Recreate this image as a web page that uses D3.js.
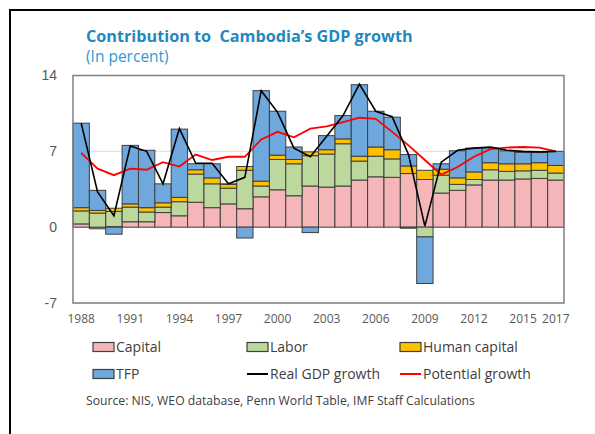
<!DOCTYPE html>
<html>
<head>
    <meta charset="utf-8">
    <title>Contribution to Cambodia's GDP growth</title>
    <script src="https://d3js.org/d3.v7.min.js"></script>
    <style>
        body {
            margin: 0;
            background: #fff;
        }
        .axis path, .axis line {
            display: none;
        }
        .xaxis text {
            font-family: "Open Sans", sans-serif;
            font-size: 12px;
            fill: #595959;
        }
        .yaxis text {
            font-family: "Liberation Sans", Arial, sans-serif;
            font-size: 14px;
            fill: #595959;
        }
        .legend text {
            font-family: "Open Sans", sans-serif;
            font-size: 14px;
            fill: #404040;
        }
    </style>
</head>
<body>
    <div id="chart"></div>

    <script>
        // Data
        const years = [1988, 1989, 1990, 1991, 1992, 1993, 1994, 1995, 1996, 1997,
                       1998, 1999, 2000, 2001, 2002, 2003, 2004, 2005, 2006, 2007,
                       2008, 2009, 2010, 2011, 2012, 2013, 2014, 2015, 2016, 2017];
        const capital = [0.3, -0.15, 0.05, 0.5, 0.5, 1.35, 1.05, 2.3, 1.8, 2.15,
                         1.7, 2.8, 3.45, 2.9, 3.8, 3.7, 3.8, 4.35, 4.65, 4.6,
                         4.95, 4.4, 3.15, 3.4, 3.9, 4.35, 4.35, 4.45, 4.5, 4.35];
        const labor = [1.2, 1.3, 1.4, 1.35, 0.9, 0.5, 1.3, 2.6, 2.2, 1.45,
                       3.55, 1.0, 2.8, 2.95, 2.8, 3.05, 3.9, 1.75, 1.9, 1.7,
                       -0.1, -0.9, 1.65, 0.55, 0.5, 0.95, 0.8, 0.75, 0.75, 0.65];
        const humanCapital = [0.3, 0.25, 0.3, 0.3, 0.4, 0.4, 0.4, 0.4, 0.55, 0.35,
                              0.35, 0.45, 0.4, 0.4, 0.35, 0.4, 0.45, 0.45, 0.85, 0.85,
                              0.7, 0.85, 0.55, 0.6, 0.7, 0.65, 0.7, 0.65, 0.7, 0.7];
        const tfp = [7.8, 1.85, -0.65, 5.4, 5.3, 1.75, 6.3, 0.55, 1.3, 0.05,
                     -1.0, 8.35, 4.05, 1.15, -0.5, 1.3, 2.15, 6.6, 3.3, 3.0,
                     1.05, -4.3, 0.5, 2.5, 2.2, 1.35, 1.2, 1.05, 0.95, 1.3];
        const realGdp = [9.6, 3.25, 1.05, 7.5, 7.0, 4.0, 9.1, 5.9, 5.9, 4.0,
                         4.6, 12.6, 10.6, 7.3, 6.5, 8.4, 10.3, 13.2, 10.7, 10.2,
                         6.7, 0.1, 6.0, 7.1, 7.3, 7.4, 7.1, 7.0, 6.95, 7.0];
        const potential = [6.85, 5.4, 4.8, 5.4, 5.3, 6.0, 5.6, 6.7, 6.2, 6.5,
                           6.5, 8.1, 8.8, 8.3, 9.1, 9.3, 9.7, 10.1, 10.0, 8.8,
                           7.55, 6.2, 4.85, 5.55, 6.5, 7.2, 7.35, 7.4, 7.35, 7.0];
        const xTicks = [1988, 1991, 1994, 1997, 2000, 2003, 2006, 2009, 2012, 2015, 2017];
        const yTicks = [-7, 0, 7, 14];

        const keys = ["capital", "labor", "hc", "tfp"];
        const colors = {capital: "#f4b6b8", labor: "#bdd89c", hc: "#ffc000", tfp: "#6fa8dc"};

        const rows = years.map((y, i) => ({
            year: y,
            capital: capital[i],
            labor: labor[i],
            hc: humanCapital[i],
            tfp: tfp[i]
        }));

        const width = 595, height = 434;
        const plot = {left: 73, right: 564, top: 75.5, bottom: 303};

        const svg = d3.select("#chart").append("svg")
            .attr("width", width)
            .attr("height", height);

        svg.append("rect")
            .attr("width", width)
            .attr("height", height)
            .attr("fill", "#fff");

        // outer frame (left + top edges)
        svg.append("path")
            .attr("d", `M10,${height} V10 H${width}`)
            .attr("fill", "none")
            .attr("stroke", "#000")
            .attr("stroke-width", 2);

        // title
        svg.append("text")
            .attr("x", 86)
            .attr("y", 42)
            .style("font-family", "'Open Sans', sans-serif")
            .style("font-weight", "bold")
            .style("font-size", "16.2px")
            .style("white-space", "pre")
            .attr("fill", "#1f88be")
            .text("Contribution to  Cambodia\u2019s GDP growth");

        svg.append("text")
            .attr("x", 86)
            .attr("y", 62)
            .style("font-family", "'Open Sans', sans-serif")
            .style("font-size", "15.5px")
            .attr("fill", "#2e9ad6")
            .text("(In percent)");

        const x = d3.scaleBand()
            .domain(years)
            .range([plot.left, plot.right])
            .padding(0);

        const y = d3.scaleLinear()
            .domain([-7, 14])
            .range([plot.bottom, plot.top]);

        // gridlines
        svg.append("g")
            .selectAll("line")
            .data(yTicks)
            .join("line")
            .attr("x1", plot.left)
            .attr("x2", plot.right)
            .attr("y1", d => y(d))
            .attr("y2", d => y(d))
            .attr("stroke", "#dedede")
            .attr("stroke-width", 1);

        // stacked bars
        const series = d3.stack()
            .keys(keys)
            .offset(d3.stackOffsetDiverging)(rows);

        svg.append("g")
            .selectAll("g")
            .data(series)
            .join("g")
            .attr("fill", d => colors[d.key])
            .selectAll("rect")
            .data(d => d)
            .join("rect")
            .attr("x", d => x(d.data.year))
            .attr("width", x.bandwidth())
            .attr("y", d => y(Math.max(d[0], d[1])))
            .attr("height", d => Math.abs(y(d[0]) - y(d[1])))
            .attr("stroke", "#3f3f3f")
            .attr("stroke-width", 1);

        // lines
        const cx = d => x(d.year) + x.bandwidth() / 2;

        const valueLine = d3.line()
            .x(cx)
            .y(d => y(d.v));

        svg.append("path")
            .datum(years.map((yr, i) => ({year: yr, v: potential[i]})))
            .attr("d", valueLine)
            .attr("fill", "none")
            .attr("stroke", "#ff0000")
            .attr("stroke-width", 1.8);

        svg.append("path")
            .datum(years.map((yr, i) => ({year: yr, v: realGdp[i]})))
            .attr("d", valueLine)
            .attr("fill", "none")
            .attr("stroke", "#000")
            .attr("stroke-width", 1.6);

        // plot border
        svg.append("rect")
            .attr("x", plot.left)
            .attr("y", plot.top)
            .attr("width", plot.right - plot.left)
            .attr("height", plot.bottom - plot.top)
            .attr("fill", "none")
            .attr("stroke", "#808080")
            .attr("stroke-width", 1.5);

        // axes
        svg.append("g")
            .attr("class", "axis xaxis")
            .attr("transform", `translate(0,${plot.bottom + 8})`)
            .call(d3.axisBottom(x).tickValues(xTicks).tickSize(0));

        svg.append("g")
            .attr("class", "axis yaxis")
            .attr("transform", `translate(${plot.left - 8},0)`)
            .call(d3.axisLeft(y).tickValues(yTicks).tickSize(0).tickPadding(8)
                .tickFormat(d => String(d)));

        // legend
        const legendItems = [
            {label: "Capital", type: "rect", color: colors.capital, col: 0, row: 0},
            {label: "Labor", type: "rect", color: colors.labor, col: 1, row: 0},
            {label: "Human capital", type: "rect", color: colors.hc, col: 2, row: 0},
            {label: "TFP", type: "rect", color: colors.tfp, col: 0, row: 1},
            {label: "Real GDP growth", type: "line", color: "#000", col: 1, row: 1},
            {label: "Potential growth", type: "line", color: "#ff0000", col: 2, row: 1}
        ];
        const colX = [93, 247, 400];
        const rowY = [347, 374];

        const legend = svg.append("g")
            .attr("class", "legend")
            .selectAll("g")
            .data(legendItems)
            .join("g")
            .attr("transform", d => `translate(${colX[d.col]},${rowY[d.row]})`);

        legend.filter(d => d.type === "rect")
            .append("rect")
            .attr("x", 0)
            .attr("y", -4.5)
            .attr("width", 21)
            .attr("height", 9)
            .attr("fill", d => d.color)
            .attr("stroke", "#3f3f3f")
            .attr("stroke-width", 1.2);

        legend.filter(d => d.type === "line")
            .append("line")
            .attr("x1", 0)
            .attr("x2", 21)
            .attr("y1", 0)
            .attr("y2", 0)
            .attr("stroke", d => d.color)
            .attr("stroke-width", 2);

        legend.append("text")
            .attr("x", 23)
            .attr("y", 0)
            .attr("dy", "0.35em")
            .text(d => d.label);

        // source note
        svg.append("text")
            .attr("x", 86)
            .attr("y", 405)
            .style("font-family", "'Open Sans', sans-serif")
            .style("font-size", "12.2px")
            .attr("fill", "#404040")
            .text("Source: NIS, WEO database, Penn World Table, IMF Staff Calculations");
    </script>
</body>
</html>
